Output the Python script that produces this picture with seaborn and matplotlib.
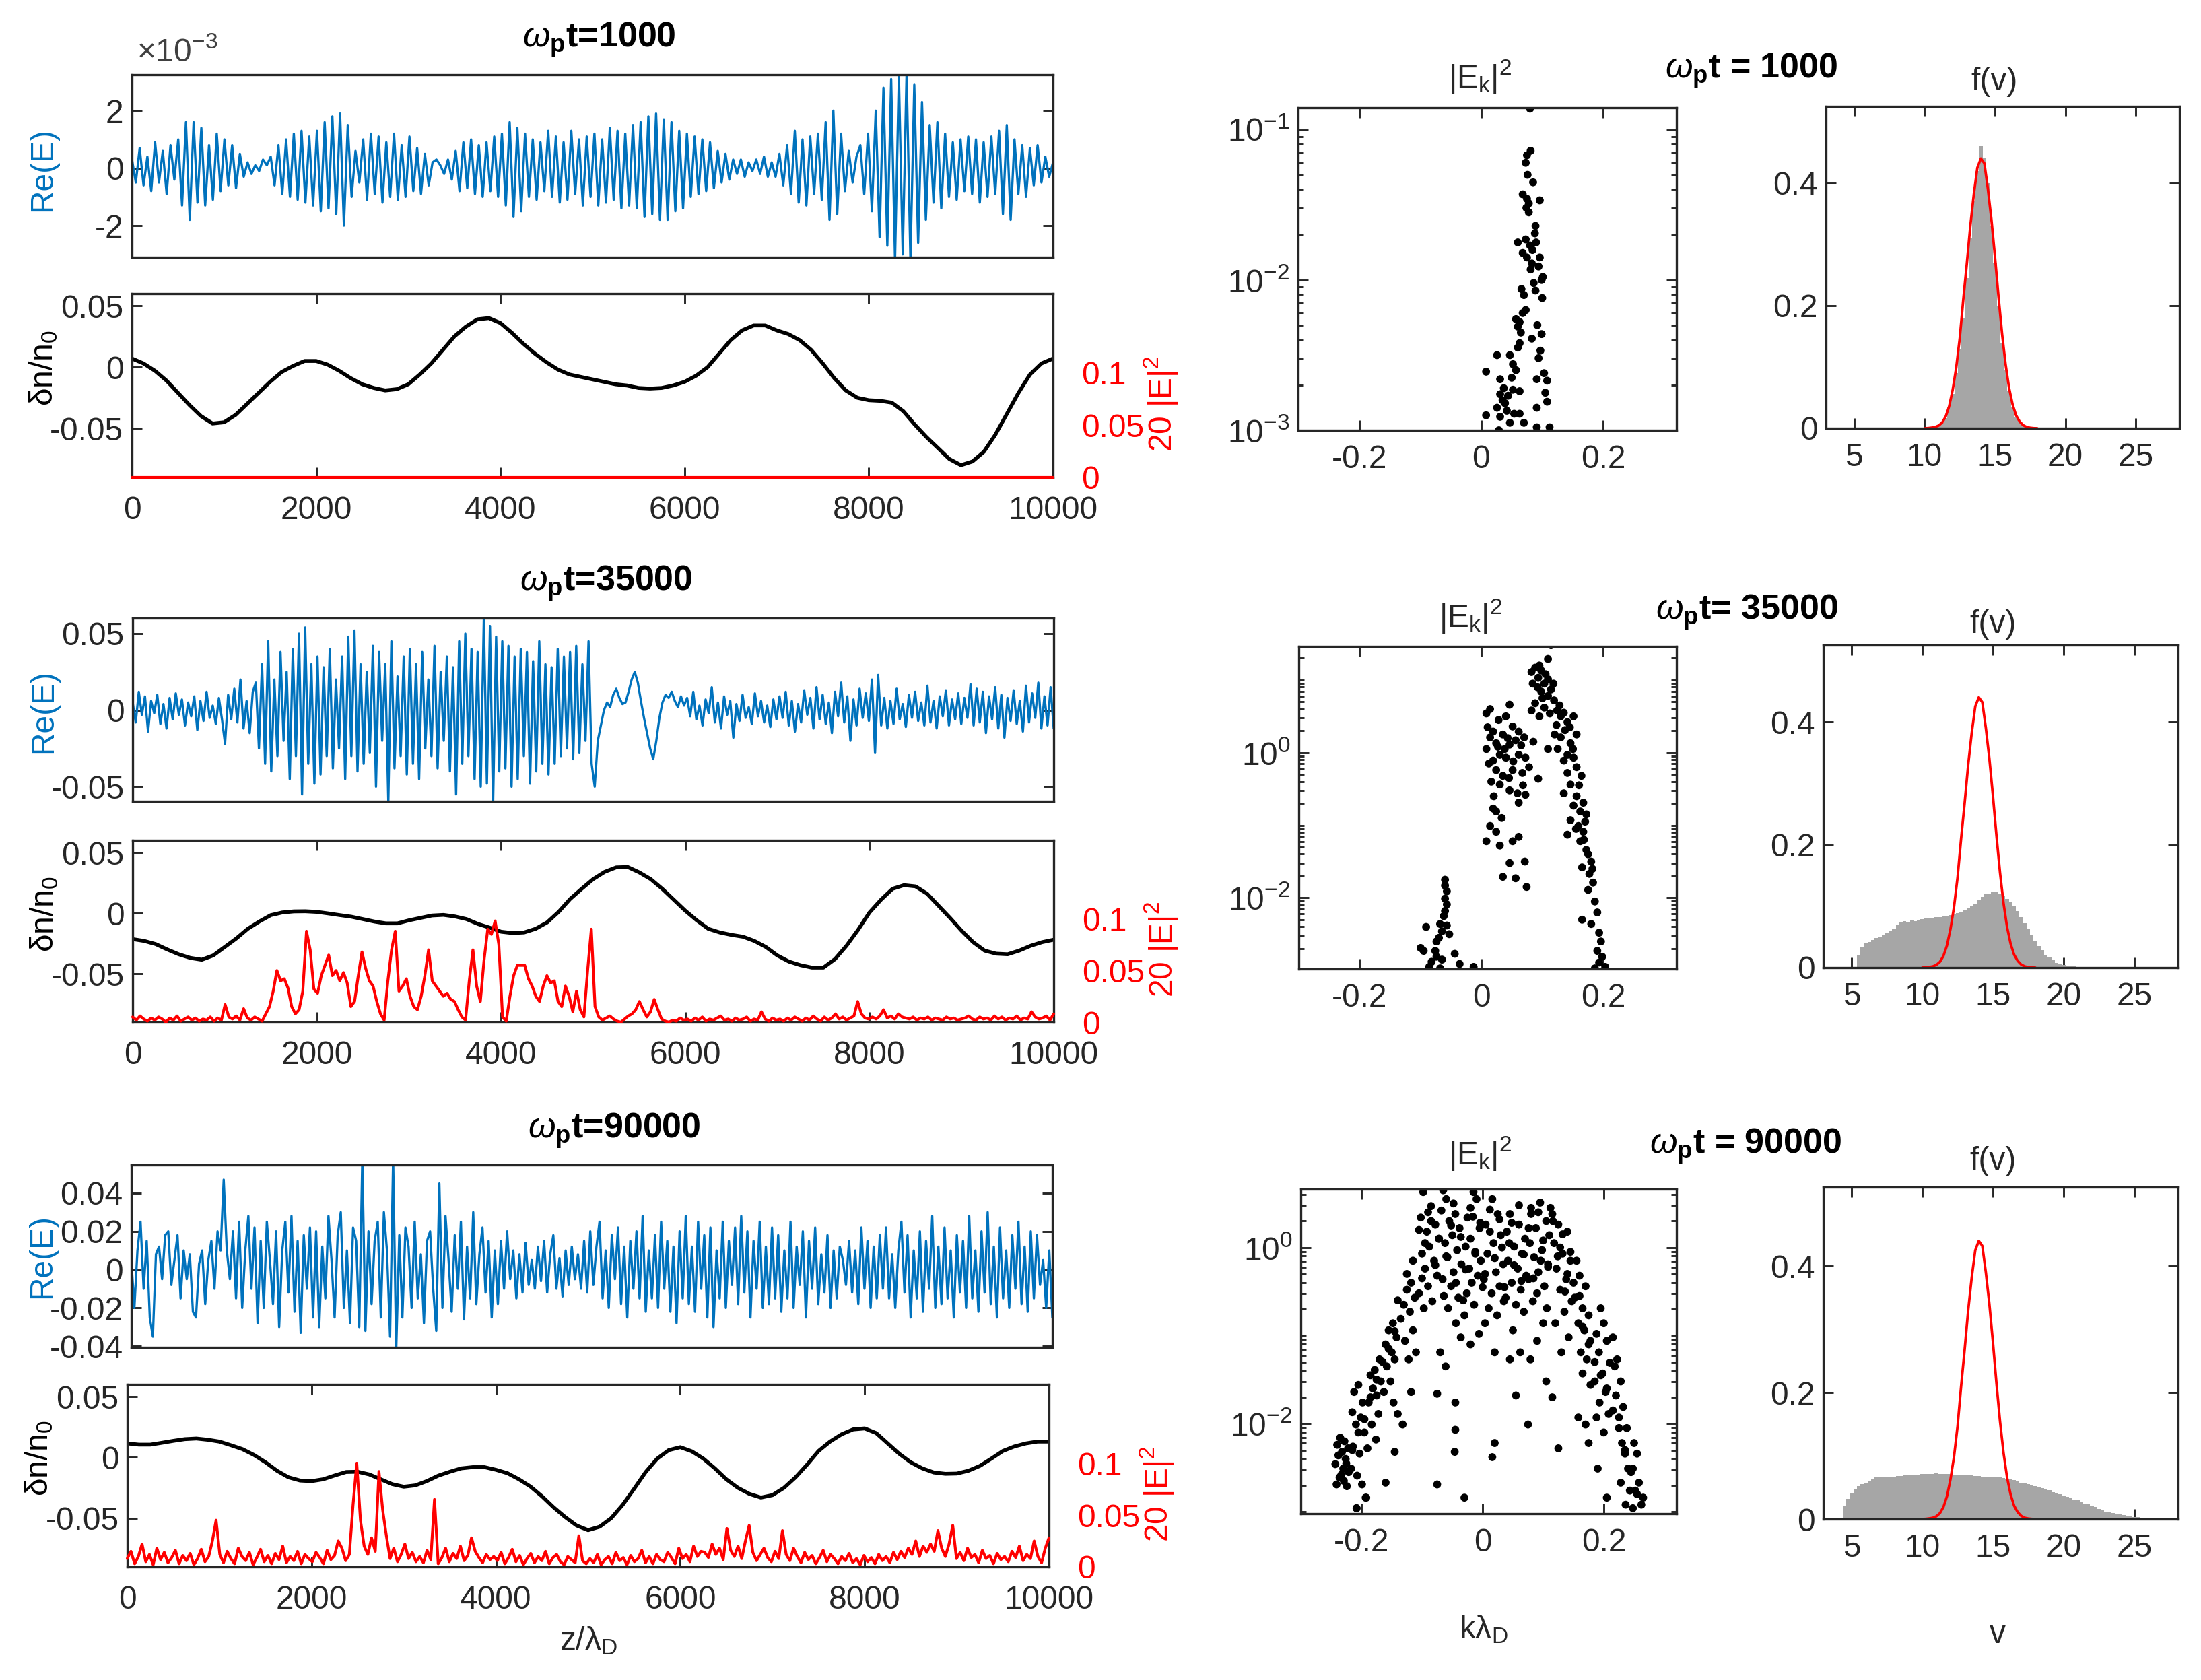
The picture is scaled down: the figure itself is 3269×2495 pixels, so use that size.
import numpy as np
import pandas as pd
import matplotlib
matplotlib.use("Agg")
import matplotlib.pyplot as plt
from matplotlib.ticker import FixedLocator, LogLocator, NullFormatter, LogFormatterSciNotation
import seaborn as sns

# ====================== DATA ======================
z_ticks = [0, 2000, 4000, 6000, 8000, 10000]
z_tick_labels = ["0", "2000", "4000", "6000", "8000", "10000"]

# Re(E), evenly spaced over z/lambda_D = 0..10000, in units of 1e-3
re_e_t1000_milli = [
    0.3, -0.5, 0.7, -0.6, 0.4, -0.8, 0.9, -0.5, 0.6, -0.9, 0.8, -0.4,
    1.0, -1.3, 1.6, -1.8, 1.6, -1.2, 1.4, -1.3, 0.8, -1.1, 1.2, -0.8,
    1.0, -0.6, 0.8, -0.7, 0.5, -0.3, 0.2, -0.2, 0.1, -0.1, 0.3, 0.1,
    0.4, -0.6, 0.8, -0.9, 1.0, -1.0, 1.2, -1.1, 1.3, -1.2, 1.1, -1.3,
    1.3, -1.5, 1.6, -1.4, 1.8, -1.6, 1.9, -2.0, 1.5, -1.0, 0.6, -0.5,
    1.0, -1.1, 1.2, -0.9, 1.1, -1.2, 0.9, -1.0, 1.2, -1.1, 0.8, -1.0,
    1.1, -0.8, 0.7, -0.9, 0.5, -0.6, 0.2, 0.3, 0.1, -0.2, 0.3, -0.4,
    0.6, -0.8, 0.9, -0.7, 1.0, -0.9, 0.8, -1.0, 0.9, -0.8, 1.1, -1.0,
    1.2, -1.3, 1.6, -1.7, 1.4, -1.5, 1.2, -1.0, 1.0, -1.1, 0.9, -0.8,
    1.3, -1.0, 1.1, -1.2, 0.9, -1.1, 1.3, -0.9, 1.0, -1.3, 1.1, -1.0,
    1.2, -1.3, 1.0, -1.2, 1.4, -1.1, 1.3, -1.4, 1.2, -1.3, 1.5, -1.4,
    1.6, -1.7, 1.8, -1.6, 1.9, -1.8, 1.7, -1.8, 1.6, -1.5, 1.3, -1.4,
    1.2, -1.0, 1.1, -0.9, 1.0, -0.8, 0.9, -0.7, 0.6, -0.5, 0.5, -0.4,
    0.3, -0.2, 0.3, -0.3, 0.2, -0.1, 0.3, -0.2, 0.4, -0.3, 0.2, -0.3,
    0.5, -0.6, 0.8, -0.9, 1.3, -1.2, 1.0, -1.3, 1.1, -0.9, 1.2, -1.1,
    1.6, -1.8, 2.0, -1.6, 1.2, -0.8, 0.6, -0.5, 0.4, 0.8, -0.9, 1.2,
    -1.5, 2.0, -2.4, 2.8, -2.7, 3.1, -3.2, 3.2, -3.0, 3.3, -3.2, 2.9,
    -2.6, 2.3, -1.8, 1.5, -1.2, 1.6, -1.4, 1.2, -1.0, 0.9, -1.1, 1.0,
    -0.8, 1.1, -0.9, 1.0, -1.2, 0.9, -1.0, 1.1, -0.9, 1.3, -1.6, 1.5,
    -1.8, 1.0, -0.9, 0.8, -1.0, 0.7, -0.6, 0.8, -0.5, 0.4, -0.3, 0.2,
]
re_e_t35000_milli = [
    5, -8, 12, -3, 9, -14, 6, -2, 10, -9, 4, -12, 8, -6, 11, -3, 7, -10, 5, -4, 9, -13, 6, -7, 12, -5, 3, -9, 8, -6,
    -22, 10, -6, 14, -8, 20, -12, 6, -15, 12, 18, -25, 30, -35, 45, -40, 20, -30, 38, -20, 25, -45, 40, -30, 50, -55, 54, -35, 30, -48,
    35, -42, 28, -30, 40, -38, 20, -25, 35, -45, 48, -30, 52, -40, 30, -35, 25, -28, 42, -50, 38, -20, 30, -60, 45, -38, 22, -30, 35, -42,
    40, -35, 30, -45, 38, -25, 20, -30, 42, -38, 25, -20, 35, -40, 28, -55, 45, -35, 50, -30, 40, -45, 38, -50, 60, -48, 55, -62, 48, -40,
    45, -38, 42, -50, 35, -45, 40, -30, 38, -48, 32, -40, 45, -35, 30, -42, 28, -35, 40, -30, 35, -25, 38, -32, 42, -28, 30, -20, 45, -35,
    -50, -20, -10, 0, 5, 2, 10, 14, 8, 4, 5, 12, 20, 25, 18, 6, -5, -15, -25, -32, -20, -5, 5, 10, 8, 12, 6, 2, 9, 3,
    8, -4, 12, -6, 3, -10, 7, -2, 15, -8, 5, -12, 9, -3, 6, -18, 4, -7, 10, -5, 2, -9, 11, -4, 6, -8, 3, -11, 7, -6,
    9, -5, 12, -10, 6, -14, 4, -8, 13, -3, 8, -12, 15, -6, 10, -9, 5, -15, 12, -4, 18, -8, 9, -20, 7, -10, 14, -5, 11, -7,
    20, -28, 23, -10, 8, -12, 6, -9, 14, -6, 4, -11, 10, -5, 12, -7, 5, -10, 16, -8, 6, -12, 9, -4, 13, -10, 7, -6, 11, -9,
    8, -5, 17, -10, 14, -8, 12, -15, 9, -6, 15, -12, 10, -18, 8, -7, 13, -9, 6, -14, 16, -8, 11, -5, 18, -12, 9, -10, 15, -12,
]
re_e_t90000_milli = [
    5, -20, 10, 25, -10, 15, -25, -35, 8, 12, -5, 18, 20, -8, 5, 18, -15, 10, -5, 8, -22, -25, 3, 10, -18, 5, 15, -10, 20, 10,
    47, 10, -5, 20, -15, 25, -20, 10, 28, -10, 22, -28, 15, -20, 25, 5, -18, 20, -30, 10, 25, -12, 28, -22, 15, -33, 18, -10, 22, -25,
    20, -30, 12, -15, 28, 5, -25, 18, 30, -20, 10, -28, 22, 15, -30, 58, -32, 20, -18, 15, 25, -25, 30, 10, -35, 58, -42, 18, -25, 22,
    12, -20, 25, -15, 8, -28, 15, 20, -10, -32, 45, -20, 28, 5, -22, 18, -10, 25, -26, 12, -15, 30, -18, 8, 22, -12, 15, -25, 10, -18,
    15, -10, 20, -5, 10, -15, 8, -12, 14, -8, 5, -10, 12, -6, 15, -12, 8, 18, -10, 6, -14, 10, -8, 12, -5, 8, -10, 15, -12, 20,
    -8, 12, 25, -15, 10, -20, 18, -5, 22, -18, 12, -25, 15, -10, 20, -15, 28, -22, 10, -15, 18, -20, 25, -10, 15, -22, 12, -28, 20, -15,
    28, -18, 12, -22, 25, -10, 18, -25, 22, -30, 10, -15, 25, -20, 15, -8, 22, -18, 28, -12, 20, -25, 15, -10, 25, -20, 12, -18, 22, -15,
    18, -22, 10, -15, 25, -20, 12, -8, 20, -25, 15, -10, 22, -18, 8, -12, 18, -20, 10, -15, 12, 5, -8, 15, -12, 10, -18, 22, -10, 15,
    -20, 12, -15, 18, -10, 22, -15, 8, -20, 10, 25, -12, 18, -25, 10, -15, 20, -22, 15, -10, 28, -20, 12, -18, 22, -15, 10, -25, 18, -12,
    15, -20, 28, -15, 10, -22, 20, -12, 30, -18, 12, -25, 22, -15, 10, -20, 18, -10, 25, -18, 12, -22, 20, -15, 18, -8, 5, -20, 10, -25,
]

# density perturbation delta n / n0, evenly spaced over z = 0..10000 (every 125)
dn_t1000 = [
    0.007, 0.003, -0.003, -0.011, -0.021, -0.031, -0.040, -0.046,
    -0.045, -0.039, -0.030, -0.021, -0.012, -0.004, 0.001, 0.005,
    0.005, 0.002, -0.003, -0.009, -0.014, -0.017, -0.019, -0.018,
    -0.014, -0.006, 0.003, 0.014, 0.025, 0.033, 0.039, 0.040,
    0.036, 0.028, 0.019, 0.011, 0.004, -0.002, -0.006, -0.008,
    -0.010, -0.012, -0.014, -0.015, -0.017, -0.0175, -0.017, -0.015,
    -0.012, -0.007, 0.0, 0.011, 0.022, 0.030, 0.034, 0.034,
    0.030, 0.027, 0.022, 0.014, 0.003, -0.009, -0.019, -0.025,
    -0.027, -0.0275, -0.029, -0.036, -0.047, -0.057, -0.066, -0.075,
    -0.080, -0.077, -0.069, -0.055, -0.038, -0.021, -0.006, 0.003,
    0.007,
]
dn_t35000 = [
    -0.0215, -0.023, -0.0256, -0.030, -0.034, -0.037, -0.0385, -0.035,
    -0.028, -0.021, -0.013, -0.007, -0.0017, 0.0005, 0.0014, 0.0015,
    0.001, -0.0003, -0.0017, -0.003, -0.005, -0.007, -0.0085, -0.0085,
    -0.006, -0.004, -0.002, -0.0015, -0.0028, -0.005, -0.009, -0.012,
    -0.0154, -0.0165, -0.016, -0.013, -0.0077, 0.001, 0.0116, 0.020,
    0.028, 0.034, 0.0377, 0.038, 0.0336, 0.028, 0.020, 0.011,
    0.002, -0.006, -0.013, -0.016, -0.018, -0.0195, -0.023, -0.028,
    -0.035, -0.040, -0.043, -0.045, -0.045, -0.038, -0.027, -0.014,
    0.0005, 0.011, 0.020, 0.023, 0.022, 0.016, 0.006, -0.004,
    -0.0146, -0.024, -0.031, -0.0335, -0.034, -0.031, -0.027, -0.024,
    -0.022,
]
dn_t90000 = [
    0.0115, 0.0105, 0.0105, 0.012, 0.0136, 0.015, 0.0155, 0.0145,
    0.013, 0.010, 0.0068, 0.002, -0.004, -0.011, -0.0164, -0.019,
    -0.0195, -0.018, -0.0149, -0.012, -0.0118, -0.014, -0.018, -0.022,
    -0.0241, -0.023, -0.0195, -0.015, -0.0118, -0.009, -0.008, -0.008,
    -0.0102, -0.013, -0.018, -0.024, -0.032, -0.041, -0.049, -0.056,
    -0.0598, -0.057, -0.050, -0.039, -0.0257, -0.012, -0.001, 0.006,
    0.0084, 0.005, -0.001, -0.009, -0.018, -0.025, -0.030, -0.033,
    -0.031, -0.025, -0.0164, -0.006, 0.0053, 0.013, 0.019, 0.023,
    0.0238, 0.020, 0.0115, 0.003, -0.004, -0.009, -0.0124, -0.0135,
    -0.0133, -0.011, -0.007, -0.001, 0.0053, 0.009, 0.0115, 0.013,
    0.013,
]

# 20 |E|^2, evenly spaced over z = 0..10000, in units of 1e-3
e2x20_t1000_milli = [0, 0, 0, 0, 0, 0, 0, 0, 0, 0, 0]
e2x20_t35000_milli = [
    5, 2, 6, 3, 1, 4, 2, 5, 3, 0, 4, 2, 6, 1, 3, 5, 2, 4, 1, 3, 2, 5, 1, 4, 2,
    17, 5, 3, 6, 2, 13, 4, 2, 5, 3, 1, 8, 15, 30, 50, 40, 42, 33, 15, 8, 12, 30, 88, 70, 32,
    28, 45, 55, 65, 45, 50, 40, 48, 38, 15, 20, 45, 68, 52, 40, 35, 20, 8, 2, 40, 70, 88, 30, 35, 42,
    25, 15, 12, 25, 45, 70, 40, 35, 30, 25, 28, 22, 20, 12, 5, 2, 40, 70, 35, 20, 60, 90, 85, 98, 75,
    5, 1, 25, 45, 55, 55, 55, 42, 35, 25, 20, 35, 45, 38, 40, 20, 15, 35, 25, 10, 30, 12, 5, 50, 90,
    15, 5, 2, 4, 6, 3, 1, 0, 3, 6, 8, 12, 20, 12, 5, 10, 22, 12, 3, 1, 0, 2, 1, 4, 2,
    3, 1, 4, 2, 5, 1, 3, 2, 4, 6, 2, 3, 1, 4, 2, 3, 5, 1, 3, 2, 10, 3, 1, 4, 2,
    3, 1, 4, 2, 5, 3, 1, 4, 2, 6, 3, 1, 5, 2, 4, 8, 3, 5, 2, 4, 6, 20, 8, 4, 3,
    5, 3, 6, 12, 4, 6, 3, 8, 5, 4, 3, 5, 2, 4, 3, 5, 2, 4, 3, 2, 5, 3, 4, 2, 3,
    4, 6, 3, 2, 5, 3, 4, 2, 6, 3, 5, 2, 4, 3, 6, 2, 4, 3, 10, 5, 3, 4, 6, 2, 8,
]
e2x20_t90000_milli = [
    8, 15, 3, 10, 22, 5, 12, 2, 18, 7, 14, 4, 9, 16, 3, 11, 6, 13, 2, 8, 17, 5, 10, 25, 45,
    12, 4, 15, 8, 3, 18, 10, 6, 14, 2, 9, 17, 5, 11, 3, 13, 7, 20, 4, 10, 6, 15, 3, 12, 8,
    5, 14, 9, 3, 16, 7, 11, 25, 18, 6, 12, 60, 100, 45, 20, 12, 28, 15, 92, 55, 30, 8, 18, 5, 12,
    22, 8, 14, 5, 10, 4, 16, 7, 65, 3, 9, 18, 5, 13, 8, 20, 6, 11, 28, 15, 9, 4, 12, 7, 10,
    6, 14, 3, 9, 17, 5, 11, 2, 8, 13, 4, 10, 6, 15, 3, 9, 12, 5, 2, 10, 7, 4, 30, 6, 3,
    8, 4, 12, 2, 7, 10, 3, 14, 6, 9, 2, 11, 5, 8, 16, 4, 10, 3, 12, 7, 5, 14, 9, 3, 18,
    8, 12, 5, 20, 10, 15, 14, 9, 22, 12, 18, 7, 37, 16, 10, 20, 8, 25, 40, 14, 6, 12, 18, 9, 5,
    15, 8, 35, 12, 6, 18, 10, 4, 14, 7, 11, 3, 9, 16, 5, 12, 8, 3, 10, 6, 13, 4, 8, 2, 11,
    5, 9, 3, 12, 6, 10, 4, 14, 7, 15, 9, 18, 12, 25, 10, 20, 14, 22, 15, 35, 18, 10, 22, 40, 8,
    14, 6, 18, 9, 12, 4, 16, 8, 11, 3, 13, 7, 10, 5, 15, 9, 20, 6, 12, 8, 25, 10, 4, 18, 28,
]

# |E_k|^2 spectra: (k lambda_D, log10 |E_k|^2)
ek_t1000 = [
    (0.080, -0.86), (0.081, -1.14), (0.075, -1.17), (0.073, -1.22), (0.076, -1.30), (0.085, -1.35),
    (0.068, -1.43), (0.075, -1.46), (0.096, -1.47), (0.078, -1.49), (0.074, -1.52), (0.089, -1.64),
    (0.088, -1.69), (0.060, -1.75), (0.073, -1.73), (0.080, -1.77), (0.090, -1.75), (0.068, -1.82),
    (0.075, -1.85), (0.096, -1.85), (0.083, -1.89), (0.094, -1.91), (0.081, -1.93), (0.101, -1.98),
    (0.099, -2.00), (0.086, -2.02), (0.066, -2.06), (0.089, -2.07), (0.073, -2.20), (0.068, -2.22),
    (0.057, -2.26), (0.063, -2.28), (0.060, -2.31), (0.083, -2.39), (0.099, -2.36), (0.063, -2.42),
    (0.060, -2.45), (0.097, -2.47), (0.094, -2.52), (0.026, -2.50), (0.047, -2.50), (0.052, -2.56),
    (0.008, -2.61), (0.057, -2.60), (0.103, -2.62), (0.031, -2.66), (0.091, -2.66), (0.108, -2.67),
    (0.037, -2.72), (0.052, -2.73), (0.063, -2.74), (0.031, -2.76), (0.044, -2.77), (0.039, -2.82),
    (0.108, -2.81), (0.026, -2.85), (0.091, -2.85), (0.042, -2.87), (0.054, -2.89), (0.063, -2.89),
    (0.008, -2.90), (0.031, -2.91), (0.047, -2.95), (0.091, -2.98), (0.112, -2.98), (0.029, -3.00),
    (0.078, -1.55), (0.084, -1.80), (0.070, -2.10), (0.100, -2.12), (0.092, -2.30), (0.065, -2.35),
    (0.050, -2.65), (0.035, -2.80), (0.105, -2.75), (0.070, -2.95),
]
ek_t35000 = [
    (-0.060, -1.75), (-0.060, -1.83), (-0.057, -1.91), (-0.060, -2.01), (-0.057, -2.09), (-0.060, -2.18),
    (-0.068, -2.36), (-0.057, -2.38), (-0.091, -2.40), (-0.065, -2.46), (-0.053, -2.50), (-0.074, -2.60),
    (-0.100, -2.69), (-0.095, -2.73), (-0.076, -2.73), (-0.074, -2.81), (-0.044, -2.77), (-0.065, -2.85),
    (-0.086, -2.95), (-0.036, -2.91), (-0.013, -2.95), (-0.068, -2.97), (-0.062, -2.25), (-0.070, -2.55),
    (-0.082, -2.88),
    (0.014, 0.60), (0.008, 0.54), (0.046, 0.66), (0.040, 0.50), (0.019, 0.29), (0.014, 0.21),
    (0.035, 0.25), (0.051, 0.36), (0.061, 0.29), (0.024, 0.13), (0.008, 0.05), (0.046, 0.11),
    (0.056, 0.17), (0.070, 0.21), (0.030, -0.03), (0.019, -0.11), (0.040, -0.07), (0.061, -0.03),
    (0.072, -0.07), (0.024, -0.24), (0.035, -0.32), (0.051, -0.24), (0.067, -0.28), (0.030, -0.44),
    (0.046, -0.52), (0.059, -0.56), (0.072, -0.58), (0.019, -0.77), (0.024, -0.81), (0.061, -0.69),
    (0.014, -1.01), (0.024, -1.09), (0.008, -1.22), (0.030, -1.28), (0.051, -1.22), (0.061, -1.16),
    (0.046, -1.52), (0.071, -1.50), (0.035, -1.71), (0.056, -1.73), (0.074, -1.85), (0.010, 0.35),
    (0.028, 0.45), (0.043, 0.20), (0.065, 0.10), (0.016, -0.40), (0.038, 0.05), (0.052, -0.12),
    (0.027, 0.08), (0.012, -0.15), (0.045, -0.35), (0.020, -0.60), (0.033, -0.90), (0.078, -0.20),
    (0.093, -0.36), (0.109, 0.05), (0.085, 0.15), (0.068, -0.45),
    (0.114, 1.48), (0.109, 1.29), (0.088, 1.17), (0.082, 1.11), (0.098, 1.13), (0.093, 1.03),
    (0.109, 1.01), (0.103, 0.95), (0.084, 0.95), (0.114, 0.87), (0.098, 0.84), (0.109, 0.78),
    (0.119, 0.72), (0.088, 0.68), (0.103, 0.62), (0.124, 0.58), (0.082, 0.58), (0.112, 0.54),
    (0.130, 0.50), (0.151, 0.50), (0.141, 0.42), (0.123, 0.38), (0.137, 0.31), (0.156, 0.25),
    (0.130, 0.21), (0.146, 0.13), (0.125, 0.05), (0.141, -0.03), (0.151, -0.07), (0.135, -0.11),
    (0.156, -0.20), (0.141, -0.28), (0.164, -0.32), (0.146, -0.44), (0.135, -0.56), (0.156, -0.60),
    (0.167, -0.69), (0.151, -0.73), (0.162, -0.81), (0.172, -0.85), (0.146, -0.93), (0.159, -1.01),
    (0.167, -1.09), (0.141, -1.13), (0.162, -1.22), (0.172, -1.34), (0.180, -1.50), (0.165, -1.58),
    (0.177, -1.67), (0.183, -1.79), (0.175, -1.89), (0.186, -2.05), (0.165, -2.30), (0.180, -2.36),
    (0.193, -2.48), (0.190, -2.73), (0.198, -2.81), (0.193, -2.89), (0.203, -2.95), (0.186, -2.97),
    (0.095, 1.20), (0.105, 1.08), (0.092, 0.90), (0.118, 0.95), (0.100, 0.75), (0.128, 0.65),
    (0.135, 0.55), (0.095, 0.50), (0.145, 0.35), (0.120, 0.25), (0.150, 0.05), (0.160, -0.45),
    (0.170, -0.95), (0.155, -1.05), (0.175, -1.40), (0.168, -1.20), (0.182, -1.60), (0.190, -2.20),
    (0.196, -2.60),
]
ek_t90000 = [
    (-0.235, -2.16), (-0.228, -2.20), (-0.240, -2.24), (-0.222, -2.28), (-0.232, -2.32), (-0.238, -2.36),
    (-0.226, -2.40), (-0.243, -2.46), (-0.230, -2.51), (-0.221, -2.55), (-0.236, -2.61), (-0.229, -2.65),
    (-0.241, -2.69), (-0.224, -2.71), (-0.208, -2.96), (-0.192, -2.84),
    (-0.205, -1.56), (-0.212, -1.64), (-0.198, -1.76), (-0.215, -1.87), (-0.201, -1.93), (-0.209, -2.01),
    (-0.195, -2.10), (-0.214, -2.26), (-0.203, -2.34), (-0.217, -2.51), (-0.207, -2.59), (-0.199, -2.69),
    (-0.193, -2.84), (-0.208, -2.96),
    (-0.170, -1.27), (-0.178, -1.39), (-0.185, -1.45), (-0.168, -1.52), (-0.181, -1.60), (-0.175, -1.68),
    (-0.188, -1.76), (-0.172, -1.89), (-0.183, -2.01), (-0.176, -2.18), (-0.190, -2.28), (-0.160, -2.67),
    (-0.148, -0.86), (-0.155, -0.94), (-0.142, -1.02), (-0.160, -1.10), (-0.150, -1.19), (-0.145, -1.27),
    (-0.158, -1.35), (-0.152, -1.52), (-0.163, -1.64), (-0.147, -1.76), (-0.140, -1.89), (-0.145, -2.32),
    (-0.118, -0.40), (-0.125, -0.48), (-0.112, -0.57), (-0.130, -0.65), (-0.120, -0.73), (-0.135, -0.81),
    (-0.115, -0.94), (-0.128, -1.06), (-0.110, -1.19), (-0.122, -1.27), (-0.118, -1.64), (-0.132, -2.01),
    (-0.098, 0.63), (-0.085, 0.47), (-0.102, 0.34), (-0.078, 0.26), (-0.092, 0.18), (-0.072, 0.10),
    (-0.088, 0.01), (-0.100, -0.07), (-0.080, -0.15), (-0.095, -0.24), (-0.075, -0.32), (-0.090, -0.44),
    (-0.105, -0.52), (-0.083, -0.61), (-0.097, -0.69), (-0.070, -1.19), (-0.075, -1.66), (-0.075, -2.69),
    (-0.065, 0.65), (-0.060, 0.55), (-0.045, 0.38), (-0.055, 0.30), (-0.038, 0.22), (-0.050, 0.14),
    (-0.062, 0.05), (-0.042, -0.03), (-0.058, -0.11), (-0.035, -0.19), (-0.048, -0.28), (-0.066, -0.36),
    (-0.052, -0.44), (-0.040, -0.57), (-0.057, -0.69), (-0.044, -0.86), (-0.036, -1.02), (-0.061, -1.35),
    (-0.045, -1.76), (-0.045, -2.07), (-0.046, -2.32), (-0.030, -2.84),
    (-0.015, 0.63), (-0.010, 0.55), (-0.025, 0.34), (-0.005, 0.22), (-0.020, 0.10), (-0.028, 0.01),
    (-0.012, -0.07), (-0.003, -0.15), (-0.022, -0.24), (-0.008, -0.32), (-0.018, -0.40), (-0.026, -0.52),
    (-0.014, -0.65), (-0.030, -0.77), (-0.006, -0.98), (-0.020, -1.10),
    (0.012, 0.43), (0.025, 0.38), (0.005, 0.26), (0.030, 0.14), (0.018, 0.05), (0.008, -0.07),
    (0.034, -0.19), (0.022, -0.28), (0.002, -0.36), (0.028, -0.44), (0.015, -0.52), (0.035, -0.61),
    (0.010, -0.69), (0.024, -0.77), (0.004, -0.86), (0.020, -1.19), (0.020, -2.22), (0.016, -2.38),
    (0.045, 0.38), (0.060, 0.26), (0.040, 0.18), (0.070, 0.10), (0.052, 0.01), (0.065, -0.07),
    (0.042, -0.15), (0.058, -0.24), (0.072, -0.32), (0.048, -0.40), (0.063, -0.48), (0.038, -0.57),
    (0.055, -0.65), (0.068, -0.73), (0.050, -0.94), (0.062, -1.19), (0.045, -1.27), (0.055, -1.68),
    (0.075, -2.01),
    (0.095, 0.51), (0.080, 0.38), (0.105, 0.30), (0.088, 0.22), (0.110, 0.14), (0.078, 0.05),
    (0.098, -0.03), (0.085, -0.11), (0.108, -0.19), (0.092, -0.28), (0.076, -0.36), (0.102, -0.44),
    (0.090, -0.52), (0.083, -0.61), (0.106, -0.69), (0.100, -0.86), (0.090, -1.06), (0.079, -1.27),
    (0.105, -1.52),
    (0.115, 0.38), (0.125, 0.26), (0.140, 0.18), (0.118, 0.05), (0.132, -0.07), (0.145, -0.15),
    (0.122, -0.24), (0.138, -0.36), (0.128, -0.48), (0.147, -0.61), (0.135, -0.73), (0.120, -0.86),
    (0.142, -1.02), (0.130, -1.19), (0.115, -1.70), (0.125, -2.28),
    (0.155, -0.15), (0.160, -0.32), (0.170, -0.44), (0.152, -0.57), (0.165, -0.69), (0.175, -0.77),
    (0.158, -0.86), (0.168, -0.94), (0.178, -1.06), (0.162, -1.19), (0.172, -1.27), (0.165, -1.43),
    (0.178, -1.56), (0.158, -1.93), (0.170, -2.01), (0.175, -2.22),
    (0.195, -0.69), (0.200, -0.86), (0.188, -0.98), (0.205, -1.06), (0.192, -1.19), (0.210, -1.31),
    (0.198, -1.43), (0.185, -1.52), (0.203, -1.64), (0.193, -1.76), (0.208, -1.89), (0.188, -1.93),
    (0.200, -2.10), (0.190, -2.51), (0.205, -2.84),
    (0.215, -1.02), (0.222, -1.27), (0.218, -1.35), (0.228, -1.52), (0.220, -1.68), (0.232, -1.81),
    (0.225, -1.93), (0.238, -2.05), (0.230, -2.22), (0.235, -2.34), (0.240, -2.51), (0.228, -2.67),
    (0.243, -2.76), (0.236, -2.92),
    (0.250, -2.22), (0.255, -2.34), (0.248, -2.51), (0.258, -2.67), (0.252, -2.76), (0.265, -2.84),
    (0.262, -2.92), (0.248, -2.96),
    (-0.105, 0.20), (-0.095, 0.05), (-0.085, 0.30), (-0.078, -0.20), (-0.068, 0.42), (-0.060, -0.10),
    (-0.052, 0.25), (-0.044, -0.40), (-0.036, 0.12), (-0.028, -0.25), (-0.020, 0.45), (-0.012, -0.05),
    (-0.004, 0.28), (0.004, -0.30), (0.012, 0.18), (0.020, -0.12), (0.028, 0.32), (0.036, -0.45),
    (0.044, 0.05), (0.052, -0.20), (0.060, 0.48), (0.068, -0.08), (0.076, 0.22), (0.084, -0.35),
    (0.092, 0.40), (0.100, 0.08), (0.108, -0.22), (0.116, 0.30), (0.124, -0.10), (0.132, 0.15),
    (0.140, -0.30), (-0.100, -0.35), (-0.090, 0.40), (-0.072, 0.10), (-0.064, -0.55), (-0.048, 0.50),
    (-0.032, -0.60), (-0.016, 0.35), (0.000, -0.45), (0.016, 0.55), (0.032, 0.00), (0.048, 0.28),
    (0.064, -0.38), (0.080, 0.45), (0.096, -0.15), (0.112, 0.45), (0.128, 0.00), (0.136, -0.50),
    (-0.115, -0.15), (-0.125, -0.30), (0.145, -0.05), (0.150, -0.40), (-0.140, -0.60), (0.160, -0.55),
    (-0.175, -1.50), (-0.165, -1.30), (-0.185, -1.70), (-0.195, -1.95), (-0.205, -2.10), (-0.215, -2.30),
    (-0.225, -2.45), (-0.233, -2.58), (-0.155, -1.15), (-0.145, -0.95), (0.165, -0.90), (0.175, -1.10),
    (0.185, -1.30), (0.195, -1.45), (0.205, -1.60), (0.215, -1.85), (0.225, -2.05), (0.235, -2.30),
    (0.245, -2.55), (0.255, -2.80),
]

# f(v) histograms: first bin centre, bin width 0.25, heights
fv_bin_width = 0.25
fv_t1000_v0 = 10.5
fv_t1000 = [0.001, 0.002, 0.005, 0.009, 0.017, 0.034, 0.056, 0.09, 0.13, 0.18, 0.245, 0.31,
            0.37, 0.42, 0.46, 0.44, 0.40, 0.33, 0.27, 0.20, 0.14, 0.095, 0.06, 0.035, 0.019,
            0.01, 0.005, 0.002, 0.001, 0.0]
fv_t35000_v0 = 5.25
fv_t35000 = [0.0, 0.02, 0.033, 0.039, 0.042, 0.045, 0.048, 0.050, 0.053, 0.056, 0.059, 0.064,
             0.070, 0.075, 0.076, 0.075, 0.077, 0.076, 0.078, 0.079, 0.080, 0.080, 0.081, 0.082,
             0.082, 0.083, 0.083, 0.085, 0.087, 0.089, 0.091, 0.094, 0.097, 0.100, 0.104, 0.110,
             0.115, 0.119, 0.121, 0.124, 0.123, 0.120, 0.116, 0.112, 0.106, 0.100, 0.092, 0.082,
             0.072, 0.062, 0.053, 0.044, 0.035, 0.028, 0.021, 0.016, 0.012, 0.008, 0.006, 0.004,
             0.003, 0.0025, 0.002, 0.0015, 0.0012, 0.001, 0.0008, 0.0005, 0.0]
fv_t90000_v0 = 4.25
fv_t90000 = [0.0, 0.02, 0.032, 0.042, 0.048, 0.052, 0.055, 0.058, 0.061, 0.064, 0.066, 0.066,
             0.067, 0.067, 0.066, 0.067, 0.068, 0.068, 0.069, 0.069, 0.070, 0.070, 0.070, 0.071,
             0.071, 0.071, 0.071, 0.072, 0.071, 0.071, 0.071, 0.071, 0.070, 0.070, 0.070, 0.070,
             0.069, 0.069, 0.068, 0.068, 0.067, 0.067, 0.067, 0.066, 0.066, 0.066, 0.065, 0.064,
             0.063, 0.062, 0.060, 0.058, 0.057, 0.055, 0.054, 0.052, 0.050, 0.049, 0.047, 0.046,
             0.043, 0.041, 0.039, 0.037, 0.035, 0.033, 0.031, 0.030, 0.028, 0.025, 0.023, 0.021,
             0.019, 0.016, 0.014, 0.012, 0.011, 0.010, 0.008, 0.007, 0.006, 0.005, 0.004, 0.0035,
             0.003, 0.0025, 0.002, 0.0018, 0.0015, 0.0012, 0.001, 0.0008, 0.0005, 0.0003, 0.0]

# initial Maxwellian (red curve), same in all three f(v) panels
maxwell_v = [10.0, 10.25, 10.5, 10.75, 11.0, 11.25, 11.5, 11.75, 12.0, 12.25, 12.5, 12.75, 13.0,
             13.25, 13.5, 13.75, 14.0, 14.25, 14.5, 14.75, 15.0, 15.25, 15.5, 15.75, 16.0, 16.25,
             16.5, 16.75, 17.0, 17.25, 17.5, 17.75, 18.0]
maxwell_f = [0.0, 0.0003, 0.001, 0.002, 0.0044, 0.0093, 0.019, 0.036, 0.063, 0.099, 0.147, 0.21,
             0.268, 0.33, 0.382, 0.425, 0.44, 0.432, 0.39, 0.34, 0.28, 0.215, 0.155, 0.105, 0.066,
             0.039, 0.021, 0.011, 0.005, 0.002, 0.0008, 0.0002, 0.0]

# ============================ STYLE / LAYOUT ============================
sns.set_theme(style="ticks")
plt.rcParams.update({
    "font.family": ["Liberation Sans", "DejaVu Sans"],
    "mathtext.fontset": "custom",
    "mathtext.rm": "Liberation Sans",
    "mathtext.it": "Liberation Sans:italic",
    "mathtext.bf": "Liberation Sans:bold",
    "mathtext.sf": "Liberation Sans",
    "axes.unicode_minus": False,
    "axes.linewidth": 0.8,
})

W, H, DPI = 3269, 2495, 300
FS = 11.5
TFS = 12.5
TXT = "#262626"
BLUE = "#0072BD"
RED = "#FF0000"
GRAY = "#A6A6A6"

fig = plt.figure(figsize=(W / DPI, H / DPI), dpi=DPI, facecolor="white")


def add_ax(x0, y0, x1, y1):
    return fig.add_axes([x0 / W, 1 - y1 / H, (x1 - x0) / W, (y1 - y0) / H])


def ftext(xpx, ypx, s, **kw):
    kw.setdefault("fontsize", FS)
    kw.setdefault("color", "black")
    fig.text(xpx / W, 1 - ypx / H, s, **kw)


def box_style(ax):
    for sp in ax.spines.values():
        sp.set_visible(True)
        sp.set_color(TXT)
        sp.set_linewidth(0.8)
    ax.tick_params(which="both", direction="in", color=TXT, labelcolor=TXT,
                   labelsize=FS, width=0.7)
    ax.tick_params(which="major", length=3.5)
    ax.tick_params(which="minor", length=2)
    ax.set_xlabel("")
    ax.set_ylabel("")
    ax.set_facecolor("white")


left_rows = [
    dict(re_box=(196, 111, 1564, 382), dn_box=(196, 436, 1564, 709),
         re=np.array(re_e_t1000_milli), re_lim=(-3.1, 3.25), re_ticks=[-2, 0, 2],
         re_labels=["-2", "0", "2"], re_lab_y=0.48,
         dn=dn_t1000, e2=np.array(e2x20_t1000_milli) * 1e-3,
         title=r"$\omega_\mathbf{p}$t=1000", title_xy=(890, 70)),
    dict(re_box=(197, 918, 1565, 1190), dn_box=(197, 1248, 1565, 1518),
         re=np.array(re_e_t35000_milli) * 1e-3, re_lim=(-0.0595, 0.0601), re_ticks=[-0.05, 0, 0.05],
         re_labels=["-0.05", "0", "0.05"], re_lab_y=0.49,
         dn=dn_t35000, e2=np.array(e2x20_t35000_milli) * 1e-3,
         title=r"$\omega_\mathbf{p}$t=35000", title_xy=(900, 877)),
    dict(re_box=(195, 1730, 1563, 2001), dn_box=(189, 2056, 1558, 2327),
         re=np.array(re_e_t90000_milli) * 1e-3, re_lim=(-0.0406, 0.0547),
         re_ticks=[-0.04, -0.02, 0, 0.02, 0.04],
         re_labels=["-0.04", "-0.02", "0", "0.02", "0.04"], re_lab_y=0.50,
         dn=dn_t90000, e2=np.array(e2x20_t90000_milli) * 1e-3,
         title=r"$\omega_\mathbf{p}$t=90000", title_xy=(912, 1690)),
]

for i, r in enumerate(left_rows):
    # ---- Re(E) panel
    ax = add_ax(*r["re_box"])
    zz = np.linspace(0, 10000, len(r["re"]))
    sns.lineplot(x=zz, y=r["re"], ax=ax, color=BLUE, linewidth=0.8, estimator=None)
    ax.set_xlim(0, 10000)
    ax.set_ylim(*r["re_lim"])
    box_style(ax)
    ax.set_xticks([])
    ax.set_yticks(r["re_ticks"], labels=r["re_labels"])
    ax.tick_params(axis="y", left=True, right=True, pad=3)
    ax.text(-0.097, r["re_lab_y"], "Re(E)", transform=ax.transAxes, rotation=90,
            ha="center", va="center", color=BLUE, fontsize=FS)
    ftext(*r["title_xy"], r["title"], ha="center", va="baseline", fontweight="bold", fontsize=TFS)
    if i == 0:
        ftext(203, 78, "\u00d710$^{-3}$", ha="left", va="center", color="#404040")

    # ---- density panel with twin |E|^2 axis
    axd = add_ax(*r["dn_box"])
    zd = np.linspace(0, 10000, len(r["dn"]))
    sns.lineplot(x=zd, y=r["dn"], ax=axd, color="black", linewidth=1.35, estimator=None)
    axd.set_xlim(0, 10000)
    axd.set_ylim(-0.090, 0.060)
    box_style(axd)
    axd.set_xticks(z_ticks, labels=z_tick_labels)
    axd.set_yticks([-0.05, 0, 0.05], labels=["-0.05", "0", "0.05"])
    axd.tick_params(axis="x", top=True, bottom=True, pad=6.5)
    axd.tick_params(axis="y", left=True, right=True, pad=3)
    axd.text(-0.0957, 0.594, "\u03b4n/n$_\\mathrm{0}$", transform=axd.transAxes, rotation=90,
             ha="center", va="center", color="black", fontsize=FS)

    ax2 = axd.twinx()
    ze = np.linspace(0, 10000, len(r["e2"]))
    sns.lineplot(x=ze, y=r["e2"], ax=ax2, color=RED, linewidth=1.0, estimator=None,
                 clip_on=False, zorder=5)
    ax2.set_ylim(0, 0.176)
    ax2.set_xlim(0, 10000)
    for sp in ax2.spines.values():
        sp.set_visible(False)
    ax2.set_yticks([0, 0.05, 0.1], labels=["0", "0.05", "0.1"])
    ax2.tick_params(axis="y", length=0, labelcolor=RED, labelsize=FS, pad=10)
    ax2.set_ylabel("")
    ax2.set_xlabel("")
    axd.text(1.117, 0.40, "20 |E|$^2$", transform=axd.transAxes, rotation=90,
             ha="center", va="center", color=RED, fontsize=FS)

ftext(874, 2437, "z/\u03bb$_\\mathrm{D}$", ha="center", va="center", color=TXT)

# ---------------- right column ----------------
right_rows = [
    dict(sc_box=(1928, 160, 2490, 639), fv_box=(2712, 158, 3237, 636),
         ek=ek_t1000, ylim=(1e-3, 0.14), yt=[1e-3, 1e-2, 1e-1],
         fv=fv_t1000, fv_v0=fv_t1000_v0,
         sup=r"$\omega_\mathbf{p}$t = 1000", sup_xy=(2601, 116),
         ek_xy=(2198, 130), f_xy=(2962, 134)),
    dict(sc_box=(1929, 960, 2490, 1439), fv_box=(2708, 958, 3235, 1437),
         ek=ek_t35000, ylim=(1.05e-3, 29.0), yt=[1e-2, 1e0],
         fv=fv_t35000, fv_v0=fv_t35000_v0,
         sup=r"$\omega_\mathbf{p}$t= 35000", sup_xy=(2595, 920),
         ek_xy=(2184, 931), f_xy=(2960, 940)),
    dict(sc_box=(1932, 1766, 2490, 2248), fv_box=(2708, 1763, 3235, 2256),
         ek=ek_t90000, ylim=(9.5e-4, 4.6), yt=[1e-2, 1e0],
         fv=fv_t90000, fv_v0=fv_t90000_v0,
         sup=r"$\omega_\mathbf{p}$t = 90000", sup_xy=(2593, 1713),
         ek_xy=(2198, 1729), f_xy=(2960, 1737)),
]

for r in right_rows:
    # ---- |E_k|^2 scatter
    axs = add_ax(*r["sc_box"])
    sc_df = pd.DataFrame({"k": [p[0] for p in r["ek"]],
                          "ek2": 10.0 ** np.array([p[1] for p in r["ek"]])})
    sns.scatterplot(data=sc_df, x="k", y="ek2", ax=axs, s=8, color="black",
                    linewidth=0, edgecolor="none")
    axs.set_yscale("log")
    axs.set_xlim(-0.3, 0.32)
    axs.set_ylim(*r["ylim"])
    box_style(axs)
    axs.set_xticks([-0.2, 0, 0.2], labels=["-0.2", "0", "0.2"])
    axs.yaxis.set_major_locator(FixedLocator(r["yt"]))
    axs.yaxis.set_major_formatter(LogFormatterSciNotation())
    axs.yaxis.set_minor_locator(LogLocator(base=10, subs=np.arange(1, 10)))
    axs.yaxis.set_minor_formatter(NullFormatter())
    axs.tick_params(axis="x", top=True, bottom=True, pad=5)
    axs.tick_params(axis="y", which="both", left=True, right=True, pad=3)
    ftext(*r["ek_xy"], r"$|\mathrm{E}_\mathrm{k}|^2$", ha="center", va="baseline", color=TXT)
    ftext(*r["sup_xy"], r["sup"], ha="center", va="baseline", fontweight="bold", fontsize=TFS)

    # ---- f(v) histogram + initial Maxwellian
    axf = add_ax(*r["fv_box"])
    h = np.array(r["fv"], dtype=float)
    centers = r["fv_v0"] + fv_bin_width * np.arange(len(h))
    edges = np.append(centers - fv_bin_width / 2, centers[-1] + fv_bin_width / 2)
    hist_df = pd.DataFrame({"v": centers, "f": h})
    sns.histplot(data=hist_df, x="v", weights="f", bins=list(edges), ax=axf, element="step",
                 fill=True, color=GRAY, alpha=1.0, linewidth=0)
    mx_df = pd.DataFrame({"v": maxwell_v, "f": maxwell_f})
    sns.lineplot(data=mx_df, x="v", y="f", ax=axf, color=RED, linewidth=0.9, estimator=None)
    axf.set_xlim(3, 28.1)
    axf.set_ylim(0, 0.525)
    box_style(axf)
    axf.set_xticks([5, 10, 15, 20, 25], labels=["5", "10", "15", "20", "25"])
    axf.set_yticks([0, 0.2, 0.4], labels=["0", "0.2", "0.4"])
    axf.tick_params(axis="x", top=True, bottom=True, pad=5)
    axf.tick_params(axis="y", left=True, right=True, pad=3)
    ftext(*r["f_xy"], "f(v)", ha="center", va="baseline", color=TXT)

ftext(2203, 2420, "k\u03bb$_\\mathrm{D}$", ha="center", va="center", color=TXT)
ftext(2967, 2428, "v", ha="center", va="center", color=TXT)

fig.savefig("out.png", dpi=DPI, facecolor="white")
